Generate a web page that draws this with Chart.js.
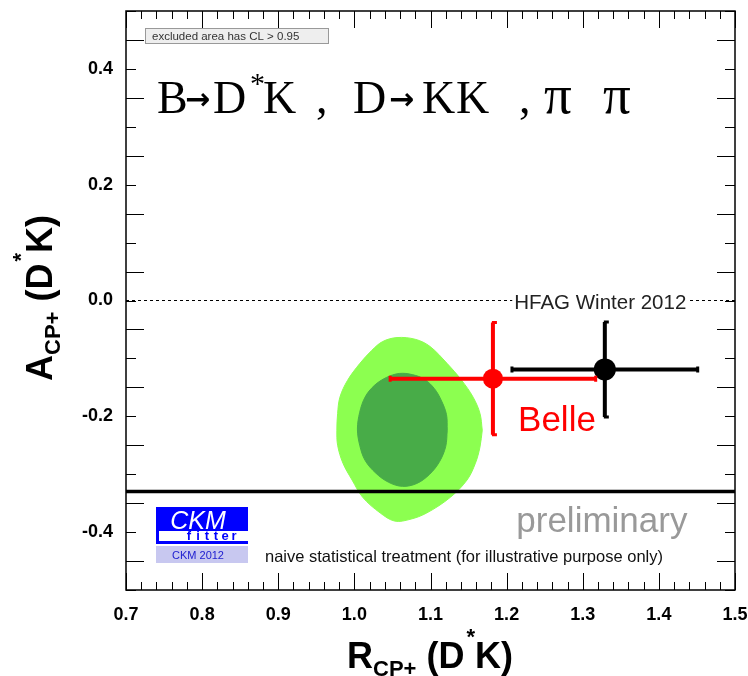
<!DOCTYPE html>
<html>
<head>
<meta charset="utf-8">
<script src="https://cdn.jsdelivr.net/npm/chart.js@4.4.0/dist/chart.umd.min.js"></script>
<style>
  html, body { margin: 0; padding: 0; background: #ffffff; }
</style>
</head>
<body>
<canvas id="ckmPlot" width="748" height="676"></canvas>
<script>
// axis ticks
const xTicks = [0.7, 0.8, 0.9, 1.0, 1.1, 1.2, 1.3, 1.4, 1.5];
const yTicks = [-0.4, -0.2, 0.0, 0.2, 0.4];

// CL contours in the (R_CP+, A_CP+) plane, each starting at its right-most point
const cl95R = [1.168, 1.165, 1.159, 1.148, 1.126, 1.095, 1.073, 1.053, 1.034, 1.011, 0.997, 0.985, 0.978, 0.977, 0.978, 0.981, 0.991, 1.007, 1.023, 1.037, 1.056, 1.080, 1.099, 1.122, 1.141, 1.156, 1.165];
const cl95A = [-0.224, -0.253, -0.281, -0.310, -0.340, -0.367, -0.378, -0.381, -0.367, -0.340, -0.310, -0.281, -0.250, -0.224, -0.195, -0.167, -0.138, -0.109, -0.086, -0.071, -0.064, -0.067, -0.079, -0.109, -0.138, -0.167, -0.195];
const cl68R = [1.122, 1.120, 1.112, 1.099, 1.082, 1.063, 1.045, 1.028, 1.014, 1.007, 1.004, 1.007, 1.014, 1.026, 1.042, 1.059, 1.076, 1.092, 1.105, 1.114, 1.121];
const cl68A = [-0.224, -0.252, -0.278, -0.300, -0.316, -0.321, -0.314, -0.298, -0.276, -0.250, -0.222, -0.193, -0.167, -0.147, -0.133, -0.126, -0.128, -0.136, -0.152, -0.172, -0.197];

// measurements
const measNames = ['Belle', 'HFAG Winter 2012'];
const measR = [1.182, 1.329];
const measRErr = [0.135, 0.122];
const measA = [-0.135, -0.119];
const measAErr = [0.097, 0.082];
const measColors = ['#ff0000', '#000000'];
const measSize = [10, 11];

const lowerBound = -0.33;

const sans = "'Liberation Sans', Arial, Helvetica, sans-serif";
const serif = "'Liberation Serif', 'Times New Roman', serif";

function closedShape(xs, ys) {
    let pts = xs.map((x, i) => ({x: x, y: ys[i]}));
    pts.push(pts[0]);
    return pts;
}

let datasets = [
    {
        label: '95% CL',
        data: closedShape(cl95R, cl95A),
        showLine: true,
        fill: 'shape',
        backgroundColor: '#8cff50',
        borderColor: '#8cff50',
        borderWidth: 1,
        pointRadius: 0,
        tension: 0.35,
        order: 20
    },
    {
        label: '68% CL',
        data: closedShape(cl68R, cl68A),
        showLine: true,
        fill: 'shape',
        backgroundColor: '#48ac48',
        borderColor: '#48ac48',
        borderWidth: 1,
        pointRadius: 0,
        tension: 0.35,
        order: 19
    },
    {
        label: 'bound',
        data: [{x: xTicks[0], y: lowerBound}, {x: xTicks[xTicks.length - 1], y: lowerBound}],
        showLine: true,
        borderColor: '#000000',
        borderWidth: 3.5,
        pointRadius: 0,
        order: 10
    },
    {
        label: 'zero',
        data: [{x: xTicks[0], y: 0}, {x: xTicks[xTicks.length - 1], y: 0}],
        showLine: true,
        borderColor: '#000000',
        borderWidth: 1,
        borderDash: [3, 3],
        pointRadius: 0,
        order: 10
    }
];

for (let i = 0; i < measNames.length; i++) {
    datasets.push({
        label: measNames[i],
        data: [{x: measR[i], y: measA[i]}],
        pointRadius: measSize[i],
        pointBackgroundColor: measColors[i],
        pointBorderWidth: 0,
        order: 1
    });
}

// text with sub/superscripts, pieces laid along one baseline
function drawRich(ctx, parts, x, y, family, weight, align) {
    let w = 0;
    parts.forEach(p => {
        ctx.font = weight + ' ' + p.size + 'px ' + family;
        w += ctx.measureText(p.t).width + (p.dx || 0);
    });
    let cx = align === 'center' ? x - w / 2 : x;
    parts.forEach(p => {
        ctx.font = weight + ' ' + p.size + 'px ' + family;
        cx += (p.dx || 0);
        ctx.fillText(p.t, cx, y + (p.dy || 0));
        cx += ctx.measureText(p.t).width;
    });
}

// title glyphs placed one by one: [text, x offset from frame, font, dy]
const titleGlyphs = [
    ['B', 31, 'normal 46px ' + serif, 0],
    ['\u2192', 59, 'bold 30px DejaVu Sans', -4],
    ['D', 87, 'normal 46px ' + serif, 0],
    ['*', 124, 'normal 30px ' + serif, -20],
    ['K', 137, 'normal 46px ' + serif, 0],
    [',', 190, 'normal 46px ' + serif, 0],
    ['D', 227, 'normal 46px ' + serif, 0],
    ['\u2192', 263, 'bold 30px DejaVu Sans', -4],
    ['K', 296, 'normal 46px ' + serif, 0],
    ['K', 330, 'normal 46px ' + serif, 0],
    [',', 393, 'normal 46px ' + serif, 0],
    ['\u03C0', 418, 'normal 55px ' + serif, 0],
    ['\u03C0', 477, 'normal 55px ' + serif, 0]
];

const decor = {
    id: 'decor',
    beforeDraw(chart) {
        const ctx = chart.ctx;
        ctx.save();
        ctx.fillStyle = '#ffffff';
        ctx.fillRect(0, 0, chart.width, chart.height);
        ctx.restore();
    },
    afterDatasetsDraw(chart) {
        const ctx = chart.ctx;
        const xs = chart.scales.x, ys = chart.scales.y;
        ctx.save();
        // error bars
        for (let i = 0; i < measNames.length; i++) {
            const x0 = xs.getPixelForValue(measR[i] - measRErr[i]);
            const x1 = xs.getPixelForValue(measR[i] + measRErr[i]);
            const y0 = ys.getPixelForValue(measA[i] + measAErr[i]);
            const y1 = ys.getPixelForValue(measA[i] - measAErr[i]);
            const cx = xs.getPixelForValue(measR[i]);
            const cy = ys.getPixelForValue(measA[i]);
            ctx.strokeStyle = measColors[i];
            ctx.lineWidth = 4;
            ctx.beginPath();
            ctx.moveTo(x0, cy); ctx.lineTo(x1, cy);
            ctx.moveTo(cx, y0); ctx.lineTo(cx, y1);
            ctx.stroke();
            ctx.lineWidth = 3;
            ctx.beginPath();
            ctx.moveTo(x0, cy - 3); ctx.lineTo(x0, cy + 3);
            ctx.moveTo(x1, cy - 3); ctx.lineTo(x1, cy + 3);
            ctx.moveTo(cx - 1, y0); ctx.lineTo(cx + 4, y0);
            ctx.moveTo(cx - 1, y1); ctx.lineTo(cx + 4, y1);
            ctx.stroke();
        }
        ctx.restore();
    },
    afterDraw(chart) {
        const ctx = chart.ctx;
        const a = chart.chartArea;
        const xs = chart.scales.x, ys = chart.scales.y;
        ctx.save();

        // HFAG label over the zero line
        ctx.font = '20.5px ' + sans;
        const hfagText = measNames[1];
        const hw = ctx.measureText(hfagText).width;
        const hx = xs.getPixelForValue(1.323);
        const hy = ys.getPixelForValue(0);
        ctx.fillStyle = '#ffffff';
        ctx.fillRect(hx - hw / 2 - 2, hy - 11, hw + 4, 20);
        ctx.fillStyle = '#222222';
        ctx.textAlign = 'center';
        ctx.textBaseline = 'alphabetic';
        ctx.fillText(hfagText, hx, hy + 8);

        // Belle label
        ctx.textAlign = 'left';
        ctx.fillStyle = measColors[0];
        ctx.font = '35px ' + sans;
        ctx.fillText(measNames[0], xs.getPixelForValue(1.215), ys.getPixelForValue(-0.226));

        // preliminary
        ctx.textAlign = 'right';
        ctx.fillStyle = '#999999';
        ctx.font = '35px ' + sans;
        ctx.fillText('preliminary', xs.getPixelForValue(1.4375), ys.getPixelForValue(-0.4));

        // note line
        ctx.textAlign = 'left';
        ctx.fillStyle = '#111111';
        ctx.font = '16.5px ' + sans;
        ctx.fillText('naive statistical treatment (for illustrative purpose only)', a.left + 139, ys.getPixelForValue(-0.452));

        // CL legend box
        ctx.fillStyle = '#eeeeee';
        ctx.fillRect(a.left + 19, a.top + 17, 183, 15);
        ctx.strokeStyle = '#999999';
        ctx.lineWidth = 1;
        ctx.strokeRect(a.left + 19.5, a.top + 17.5, 183, 15);
        ctx.fillStyle = '#333333';
        ctx.font = '11.5px ' + sans;
        ctx.fillText('excluded area has CL > 0.95', a.left + 26, a.top + 29);

        // process title
        ctx.fillStyle = '#000000';
        titleGlyphs.forEach(g => {
            ctx.font = g[2];
            ctx.fillText(g[0], a.left + g[1], a.top + 102 + g[3]);
        });

        // CKMfitter logo
        const lx = a.left + 30, ly = 507;
        ctx.fillStyle = '#0000ff';
        ctx.fillRect(lx, ly, 92, 24);
        ctx.fillRect(lx, ly, 3, 37);
        ctx.fillRect(lx, ly + 34, 92, 3);
        ctx.fillStyle = '#ffffff';
        ctx.textAlign = 'center';
        ctx.font = 'italic 25px ' + sans;
        ctx.fillText('CKM', lx + 42, ly + 22);
        ctx.fillStyle = '#0000ff';
        ctx.font = 'bold 13px ' + sans;
        const fit = 'fitter';
        for (let i = 0; i < fit.length; i++) {
            ctx.fillText(fit[i], lx + 33 + i * 9, ly + 33);
        }
        ctx.fillStyle = '#c8c8f0';
        ctx.fillRect(lx, ly + 39, 92, 17);
        ctx.fillStyle = '#2020d0';
        ctx.font = '11px ' + sans;
        ctx.fillText('CKM 2012', lx + 42, ly + 52);

        // frame
        ctx.strokeStyle = '#000000';
        ctx.lineWidth = 1.5;
        ctx.strokeRect(a.left, a.top, a.right - a.left, a.bottom - a.top);

        // inward ticks on all four sides
        ctx.lineWidth = 1;
        ctx.beginPath();
        for (let i = 0; i <= 40; i++) {
            const v = 0.7 + i * 0.02;
            const p = Math.round(xs.getPixelForValue(v)) + 0.5;
            const len = (i % 5 === 0) ? 17 : 8;
            ctx.moveTo(p, a.bottom); ctx.lineTo(p, a.bottom - len);
            ctx.moveTo(p, a.top); ctx.lineTo(p, a.top + len);
        }
        for (let i = 0; i <= 20; i++) {
            const v = -0.5 + i * 0.05;
            const p = Math.round(ys.getPixelForValue(v)) + 0.5;
            const len = (i % 2 === 1) ? 18 : 10;
            ctx.moveTo(a.left, p); ctx.lineTo(a.left + len, p);
            ctx.moveTo(a.right, p); ctx.lineTo(a.right - len, p);
        }
        ctx.stroke();

        // axis titles
        ctx.fillStyle = '#000000';
        ctx.textAlign = 'left';
        drawRich(ctx, [
            {t: 'R', size: 36},
            {t: 'CP+', size: 22, dy: 8},
            {t: ' (D', size: 36},
            {t: '*', size: 22, dy: -24, dx: 2},
            {t: 'K)', size: 36}
        ], 430, 668, sans, 'bold', 'center');

        ctx.translate(52, 298);
        ctx.rotate(-Math.PI / 2);
        drawRich(ctx, [
            {t: 'A', size: 36},
            {t: 'CP+', size: 22, dy: 8},
            {t: ' (D', size: 36},
            {t: '*', size: 22, dy: -24, dx: 2},
            {t: 'K)', size: 36}
        ], 0, 0, sans, 'bold', 'center');

        ctx.restore();
    }
};

const tickFont = {family: sans, size: 18, weight: 'bold'};

const ckmChart = new Chart(document.getElementById('ckmPlot'), {
    type: 'scatter',
    data: {datasets: datasets},
    options: {
        responsive: false,
        animation: false,
        layout: {padding: {top: 10, right: 13, left: 0, bottom: 0}},
        plugins: {legend: {display: false}, tooltip: {enabled: false}},
        scales: {
            x: {
                type: 'linear',
                min: 0.7,
                max: 1.5,
                afterBuildTicks: s => { s.ticks = xTicks.map(v => ({value: v})); },
                afterFit: s => { s.height = 86; s.paddingLeft = 0; s.paddingRight = 0; },
                grid: {display: false, drawTicks: false},
                border: {display: false},
                ticks: {font: tickFont, color: '#000000', padding: 14, maxRotation: 0, autoSkip: false,
                        callback: v => Number(v).toFixed(1)}
            },
            y: {
                type: 'linear',
                min: -0.5,
                max: 0.5,
                afterBuildTicks: s => { s.ticks = yTicks.map(v => ({value: v})); },
                afterFit: s => { s.width = 126; s.paddingTop = 0; s.paddingBottom = 0; },
                grid: {display: false, drawTicks: false},
                border: {display: false},
                ticks: {font: tickFont, color: '#000000', padding: 13, autoSkip: false,
                        callback: v => Number(v).toFixed(1)}
            }
        }
    },
    plugins: [decor]
});
</script>
</body>
</html>
